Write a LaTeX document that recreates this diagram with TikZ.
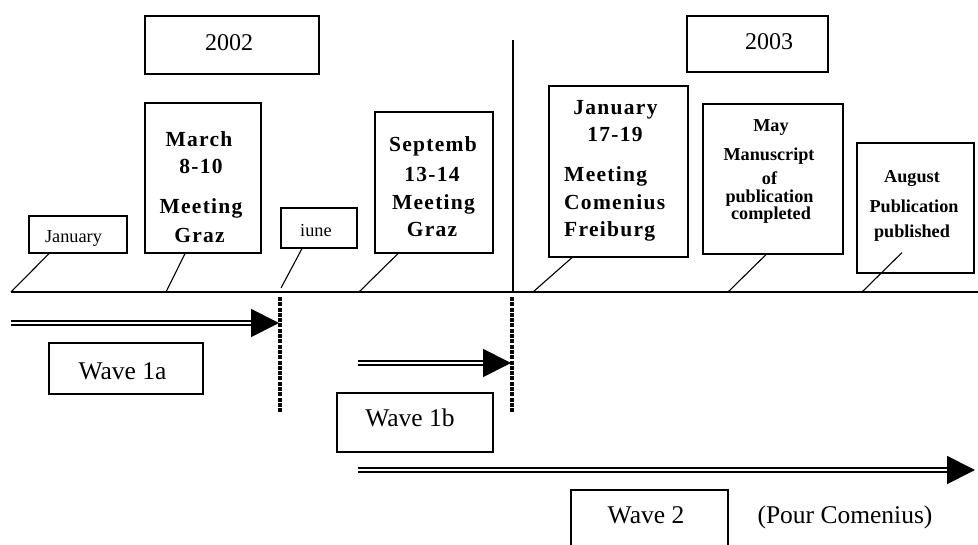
\documentclass[tikz,border=0pt]{standalone}
\usepackage{fontspec}
\setmainfont{Liberation Serif}
\newfontface\bsp[LetterSpace=6]{Liberation Serif Bold}
\usetikzlibrary{arrows.meta}
\begin{document}
\begin{tikzpicture}[x=1pt,y=-1pt,
  box/.style={draw, line width=1.2pt, inner sep=0pt},
  yr/.style={font=\fontsize{24}{28}\selectfont, anchor=base, inner sep=0pt},
  sm/.style={font=\fontsize{18.3}{22}\selectfont, anchor=base, inner sep=0pt},
  bl/.style={font=\bsp\fontsize{21.5}{25}\selectfont, anchor=base, inner sep=0pt},
  blw/.style={font=\bsp\fontsize{21.5}{25}\selectfont, anchor=base west, inner sep=0pt},
  bs/.style={font=\bfseries\fontsize{18.2}{22}\selectfont, anchor=base, inner sep=0pt},
  tight/.style={text height=9pt, text depth=3pt},
  wv/.style={font=\fontsize{25.5}{30}\selectfont, anchor=base, inner sep=0pt},
  leader/.style={line width=1.1pt},
  tline/.style={line width=1.4pt},
  dotline/.style={line width=3.4pt, dash pattern=on 4pt off 1.3pt},
  dbl/.style={double, line width=1.8pt, double distance=1.8pt, -{Triangle[length=28pt,width=28pt]}}]
\clip (0,0) rectangle (978,545);
\fill[white] (0,0) rectangle (978,545);

% year boxes
\node[box, minimum width=174pt, minimum height=58pt] (y2002) at (232,45) {};
\node[yr] (t2002) at (229,51) {2002};
\node[box, minimum width=141pt, minimum height=56pt] (y2003) at (757.5,44) {};
\node[yr] (t2003) at (769,50) {2003};

% event boxes
\node[box, minimum width=98pt, minimum height=37pt] (jan) at (78,234.5) {};
\node[sm] (tjan) at (73.5,243) {January};

\node[box, minimum width=116pt, minimum height=150pt] (mar) at (203,178) {};
\node[bl] (tmar1) at (199,147) {March};
\node[bl] (tmar2) at (201,174) {8-10};
\node[bl] (tmar3) at (201,214) {Meeting};
\node[bl] (tmar4) at (199.5,243) {Graz};

\node[box, minimum width=76pt, minimum height=40pt] (jun) at (319,228) {};
\node[sm] (tjun) at (316,237) {iune};

\node[box, minimum width=118pt, minimum height=141pt] (sep) at (434,182.5) {};
\node[bl] (tsep1) at (433,152) {Septemb};
\node[bl] (tsep2) at (432,182) {13-14};
\node[bl] (tsep3) at (433.5,210) {Meeting};
\node[bl] (tsep4) at (432,237) {Graz};

\node[box, minimum width=139pt, minimum height=171pt] (fre) at (618.5,171.5) {};
\node[bl] (tfre1) at (615.5,115) {January};
\node[bl] (tfre2) at (615,142) {17-19};
\node[blw] (tfre3) at (564,182) {Meeting};
\node[blw] (tfre4) at (564,210) {Comenius};
\node[blw] (tfre5) at (564,237) {Freiburg};

\node[box, minimum width=140pt, minimum height=150pt] (may) at (773,179) {};
\node[bs] (tmay1) at (771,132) {May};
\node[bs] (tmay2) at (769,161) {Manuscript};
\node[bs, tight] (tmay3) at (769.5,184.5) {of};
\node[bs, tight] (tmay4) at (769.5,203) {publication};
\node[bs, tight] (tmay5) at (771,220) {completed};

\node[box, minimum width=117pt, minimum height=130pt] (aug) at (915.5,208) {};
\node[bs] (taug1) at (912,183) {August};
\node[bs] (taug2) at (914,212.5) {Publication};
\node[bs] (taug3) at (912,237.5) {published};

% timeline
\coordinate (tlL) at (11,292);
\coordinate (tlR) at (980,292);
\draw[tline] (tlL) -- (tlR);

% leader end points on the timeline
\coordinate (pjan) at (11,292);
\coordinate (pmar) at (166,292);
\coordinate (pjun) at (281,288);
\coordinate (psep) at (359,292);
\coordinate (pfre) at (533,292);
\coordinate (pmay) at (728,292);
\coordinate (paug) at (862,292);
\draw[leader] ([xshift=-29pt]jan.south) -- (pjan);
\draw[leader] ([xshift=-18pt]mar.south) -- (pmar);
\draw[leader] ([xshift=-17pt]jun.south) -- (pjun);
\draw[leader] ([xshift=-36pt]sep.south) -- (psep);
\draw[leader] ([xshift=-46.5pt]fre.south) -- (pfre);
\draw[leader] ([xshift=-7pt]may.south) -- (pmay);
\draw[leader] ([xshift=-13.5pt,yshift=21pt]aug.south) -- (paug);

% year separator
\coordinate (vtop) at (513,40);
\coordinate (vbot) at (513,292);
\draw[line width=1.2pt] (vtop) -- (vbot);

% dotted boundaries
\coordinate (d1t) at (280,297);
\coordinate (d1b) at (280,412);
\coordinate (d2t) at (512,297);
\coordinate (d2b) at (512,412);
\draw[dotline] (d1t) -- (d1b);
\draw[dotline] (d2t) -- (d2b);

% waves
\coordinate (a1s) at (11,323);
\coordinate (a1e) at (279,323);
\draw[dbl] (a1s) -- (a1e);
\node[box, minimum width=154pt, minimum height=51pt] (w1a) at (126,368.5) {};
\node[wv] (tw1a) at (122.5,380) {Wave 1a};

\coordinate (a2s) at (358,363);
\coordinate (a2e) at (511,363);
\draw[dbl] (a2s) -- (a2e);
\node[box, minimum width=156pt, minimum height=59pt] (w1b) at (415,422.5) {};
\node[wv] (tw1b) at (410,427) {Wave 1b};

\coordinate (a3s) at (358,470);
\coordinate (a3e) at (975,470);
\draw[dbl] (a3s) -- (a3e);
\node[box, minimum width=157pt, minimum height=80pt] (w2) at (649.5,530) {};
\node[wv] (tw2) at (646,523) {Wave 2};
\node[wv] (pour) at (845,523) {(Pour Comenius)};
\end{tikzpicture}
\end{document}
